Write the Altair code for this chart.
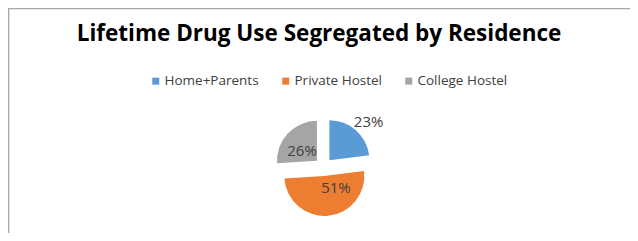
import altair as alt
import pandas as pd

categories = ["Home+Parents", "Private Hostel", "College Hostel"]
values = [23, 51, 26]
colors = ["#5B9BD5", "#ED7D31", "#A5A5A5"]
title_text = "Lifetime Drug Use Segregated by Residence"

W, H = 622, 225
CX, CY = 315.5, 159
R = 40
EXPLODE = 9

df = pd.DataFrame({"category": categories, "value": values})

base = alt.Chart(df).transform_joinaggregate(
    total="sum(value)"
).transform_window(
    cum="sum(value)", frame=[None, 0]
).transform_calculate(
    end="2*PI*datum.cum/datum.total",
    start="2*PI*(datum.cum-datum.value)/datum.total",
).transform_calculate(
    mid="(datum.start+datum.end)/2",
    pct="datum.value + '%'",
).transform_calculate(
    px=f"{CX} + {EXPLODE}*sin(datum.mid)",
    py=f"{CY} - {EXPLODE}*cos(datum.mid)",
    lr="datum.category == 'Home+Parents' ? 64 : (datum.category == 'Private Hostel' ? 24 : 27)",
    la="datum.category == 'Private Hostel' ? datum.mid - 0.45 : (datum.category == 'Home+Parents' ? datum.mid + 0.06 : datum.mid - 0.1)",
).transform_calculate(
    lx=f"{CX} + datum.lr*sin(datum.la)",
    ly=f"{CY} - datum.lr*cos(datum.la)",
)

color = alt.Color(
    "category:N",
    scale=alt.Scale(domain=categories, range=colors),
    sort=categories,
    legend=alt.Legend(
        title=None,
        orient="none",
        direction="horizontal",
        legendX=141,
        legendY=66,
        symbolType="square",
        symbolSize=49,
        symbolStrokeWidth=0,
        labelFont="Open Sans",
        labelFontSize=13.5,
        labelColor="#404040",
        labelOffset=2,
        columnPadding=20,
        padding=0,
    ),
)

arcs = base.mark_arc(outerRadius=R).encode(
    theta=alt.Theta("start:Q", scale=None),
    theta2="end:Q",
    x=alt.X("px:Q", scale=None),
    y=alt.Y("py:Q", scale=None),
    color=color,
)

labels = base.mark_text(
    font="Open Sans", fontSize=15, color="#404040", align="center", baseline="middle"
).encode(
    x=alt.X("lx:Q", scale=None),
    y=alt.Y("ly:Q", scale=None),
    text="pct:N",
)

frame_df = pd.DataFrame({"k": [0]})
top_line = alt.Chart(frame_df).mark_rule(color="#A6A6A6", strokeWidth=1.3).encode(
    x=alt.value(0), x2=alt.value(W), y=alt.value(0.7)
)
left_line = alt.Chart(frame_df).mark_rule(color="#A6A6A6", strokeWidth=1.3).encode(
    x=alt.value(0.7), y=alt.value(0), y2=alt.value(H)
)

chart = alt.layer(top_line, left_line, arcs, labels).properties(
    width=W,
    height=H,
    padding=0,
    autosize=alt.AutoSizeParams(type="none"),
    title=alt.TitleParams(
        title_text,
        font="Open Sans",
        fontSize=22.5,
        fontWeight="bold",
        color="#000000",
        anchor="middle",
        frame="group",
        orient="top",
        offset=-35,
        dy=21,
        baseline="alphabetic",
    ),
).configure_view(stroke=None).configure(background="white")

chart.save("out.html", embed_options={"renderer": "svg", "actions": False})
